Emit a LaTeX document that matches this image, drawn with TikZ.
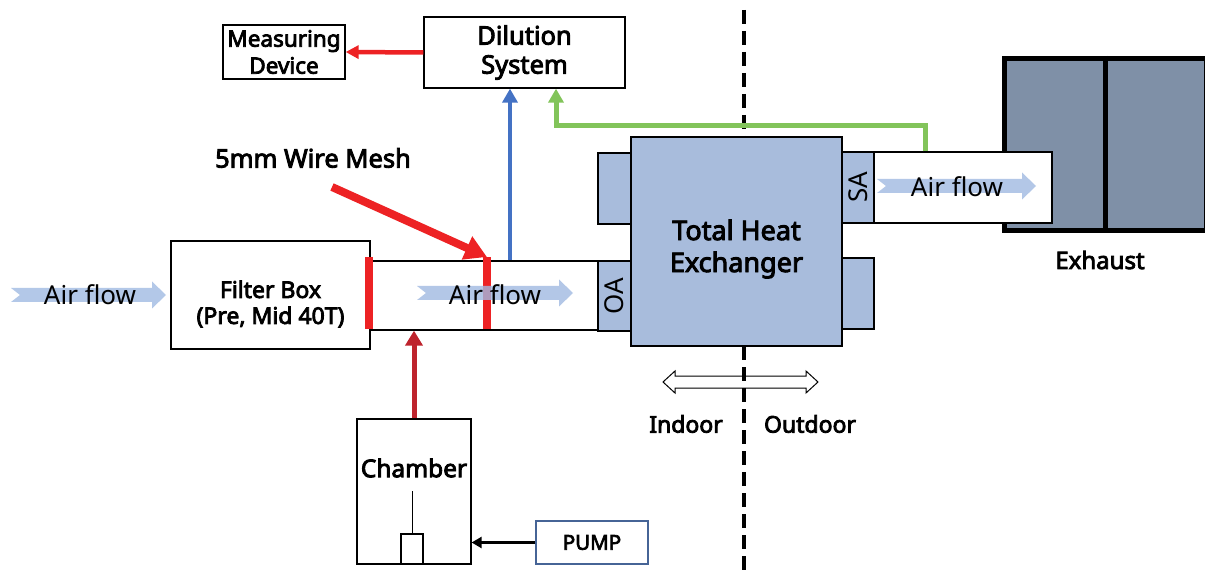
\documentclass[tikz,border=0pt]{standalone}
\usepackage{fontspec}
\setmainfont{Noto Sans}[BoldFont={Noto Sans},BoldFeatures={FakeBold=3.5}]
\usetikzlibrary{arrows.meta,calc}
\definecolor{hxblue}{RGB}{168,188,220}
\definecolor{exgray}{RGB}{127,144,167}
\definecolor{meshred}{RGB}{237,34,36}
\definecolor{arrblue}{RGB}{68,114,196}
\definecolor{arrgreen}{RGB}{130,196,90}
\definecolor{darkred}{RGB}{190,35,45}
\definecolor{flowblue}{RGB}{160,186,226}
\definecolor{pumpblue}{RGB}{70,100,150}
\newcommand{\airflowshape}[3]{% x0, x1, yc
  \fill[flowblue,fill opacity=0.8] (#1,#3-7) -- (#2-14,#3-7) -- (#2-14,#3-13.5) -- (#2,#3) -- (#2-14,#3+13.5) -- (#2-14,#3+7) -- (#1,#3+7) -- (#1+9,#3) -- cycle;}
\begin{document}
\begin{tikzpicture}[x=1pt,y=-1pt,
  box/.style={draw=black,line width=1.3pt,fill=white,inner sep=0pt,align=center},
  hxpart/.style={draw=black,line width=1.3pt,fill=hxblue,inner sep=0pt},
  bt/.style={font=\fontsize{#1}{#1*1.2}\selectfont\bfseries,align=center,inner sep=0pt},
  flowtext/.style={font=\fontsize{26}{30}\selectfont,inner sep=0pt},
  porttext/.style={font=\fontsize{26}{30}\selectfont,inner sep=0pt,rotate=90},
]
\useasboundingbox (0,0) rectangle (1205,577);

% double arrow (indoor/outdoor)
\draw[line width=1pt,fill=white] (663,382) -- (675,371) -- (675,376) -- (806,376) -- (806,371) -- (818,382) -- (806,393) -- (806,388) -- (675,388) -- (675,393) -- cycle;

% dashed boundary
\coordinate (dtop) at (744,10);
\coordinate (dbot) at (744,577);
\draw[line width=3.5pt,dash pattern=on 14pt off 7pt] (dtop) -- (dbot);

% exhaust
\node[draw=black,line width=5pt,fill=exgray,minimum width=202pt,minimum height=172pt,inner sep=0pt] (exhaust) at (1105,144.5) {};
\draw[line width=5pt] (exhaust.north) -- (exhaust.south);
\node[font=\fontsize{24}{28}\selectfont\bfseries,inner sep=0pt] (exlabel) at (1100,260) {Exhaust};

% SA duct
\node[box,minimum width=178pt,minimum height=71pt] (saduct) at (963,187.5) {};

% heat exchanger ports
\node[hxpart,minimum width=33pt,minimum height=71pt] (p1) at (614.5,188.5) {};
\node[hxpart,minimum width=33pt,minimum height=70pt] (oa) at (614.5,296) {};
\node[hxpart,minimum width=32pt,minimum height=71pt] (sa) at (858,187.5) {};
\node[hxpart,minimum width=32pt,minimum height=71pt] (p4) at (858,293.5) {};
\node[porttext] (oatext) at (oa) {OA};
\node[porttext] (satext) at (sa) {SA};
% main heat exchanger
\node[hxpart,minimum width=211pt,minimum height=209pt] (hx) at (736.5,241.5) {};
\node[font=\fontsize{27}{32}\selectfont\bfseries,align=center,inner sep=0pt] (hxtext) at (736.5,249) {Total Heat\\Exchanger};

% duct and filter box
\node[box,minimum width=228pt,minimum height=69pt] (duct) at (484,295.5) {};
\node[box,minimum width=199pt,minimum height=108pt] (filter) at (270.5,295) {};
\node[font=\fontsize{23}{26}\selectfont\bfseries,align=center,inner sep=0pt] (filtertext) at (270.5,304) {Filter Box\\(Pre, Mid 40T)};

% mesh bars
\coordinate (m1t) at (369,257);
\coordinate (m1b) at (369,329);
\coordinate (m2t) at (487,257);
\coordinate (m2b) at (487,329);
\draw[meshred,line width=8pt] (m1t) -- (m1b);
\draw[meshred,line width=8pt] (m2t) -- (m2b);

% air flow arrows
\airflowshape{11}{166}{295}
\node[flowtext] (af1) at (90,295) {Air flow};
\airflowshape{417}{573}{293}
\node[flowtext] (af2) at (495,295) {Air flow};
\airflowshape{877}{1036}{186}
\node[flowtext] (af3) at (957,187) {Air flow};

% top boxes
\node[box,minimum width=201pt,minimum height=71pt,font=\fontsize{25.5}{29}\selectfont\bfseries] (dil) at (524.5,52.5) {Dilution\\System};
\node[box,minimum width=122pt,minimum height=54pt,font=\fontsize{22.5}{27}\selectfont\bfseries] (meas) at (284,52) {Measuring\\Device};

% wire mesh label and arrow
\node[font=\fontsize{25.5}{30}\selectfont\bfseries,inner sep=0pt] (wmlabel) at (313,158) {5mm Wire Mesh};
\coordinate (wmtail) at (332,187);
\draw[meshred,line width=8pt,-{Triangle[length=22pt,width=24pt]}] (wmtail) -- (m2t);

% dilution -> measuring
\draw[meshred,line width=4.5pt,-{Triangle[length=13pt,width=13pt]}] (dil.west) -- (meas.east);

% duct -> dilution (blue)
\coordinate (bx) at (510,0);
\draw[arrblue,line width=4.5pt,-{Triangle[length=14pt,width=15pt]}] (bx |- duct.north) -- (bx |- dil.south);

% SA duct -> dilution (green)
\coordinate (g1) at (925,126);
\coordinate (g2) at (556,126);
\draw[arrgreen,line width=5pt,-{Triangle[length=14pt,width=15pt]}] (g1 |- saduct.north) -- (g1) -- (g2) -- (g2 |- dil.south);

% chamber
\node[box,minimum width=114pt,minimum height=145pt] (chamber) at (414,491.5) {};
\node[font=\fontsize{24.5}{28}\selectfont\bfseries,inner sep=0pt] (chtext) at (414,468) {Chamber};
\node[draw=black,line width=1.3pt,minimum width=22pt,minimum height=30pt,inner sep=0pt] (src) at (412,549) {};
\coordinate (srctop) at (412,491);
\draw[line width=0.8pt] (srctop) -- (src.north);

% chamber -> duct
\draw[darkred,line width=5pt,-{Triangle[length=15pt,width=17pt]}] (chamber.north) -- (chamber.north |- duct.south);

% pump
\node[draw=pumpblue,line width=1.3pt,fill=white,minimum width=112pt,minimum height=43pt,inner sep=0pt,font=\fontsize{20.5}{24}\selectfont\bfseries] (pump) at (592,542.5) {PUMP};
\draw[line width=3pt,-{Triangle[length=10pt,width=11pt]}] (pump.west) -- (chamber.east |- pump.west);

% indoor / outdoor
\node[font=\fontsize{23}{26}\selectfont\bfseries,inner sep=0pt] (indoor) at (686,424) {Indoor};
\node[font=\fontsize{23}{26}\selectfont\bfseries,inner sep=0pt] (outdoor) at (810,424) {Outdoor};
\end{tikzpicture}
\end{document}
